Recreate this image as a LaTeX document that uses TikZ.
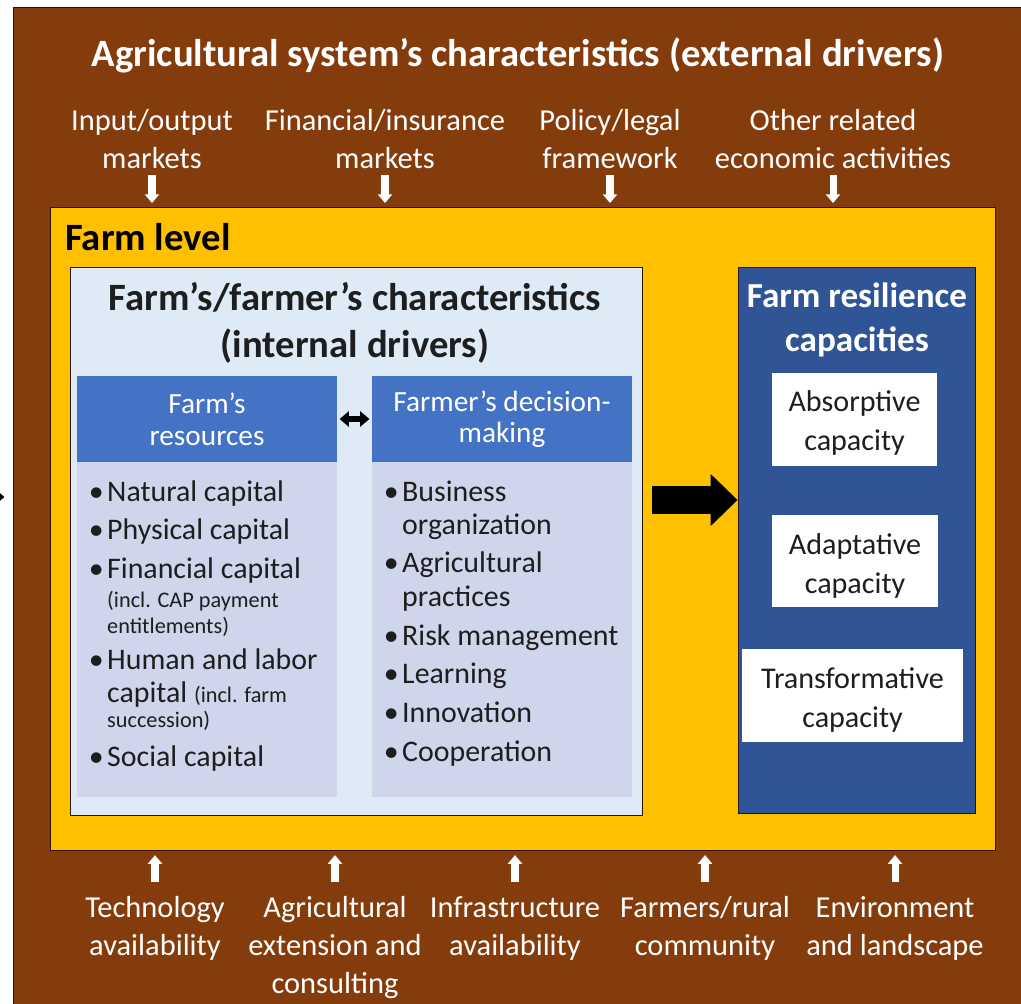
\documentclass[tikz,border=0pt]{standalone}
\usepackage{fontspec}
\setmainfont{Carlito}
\usetikzlibrary{arrows.meta,fit}

\definecolor{soil}{HTML}{843C0C}
\definecolor{farmgold}{HTML}{FFC000}
\definecolor{paleblue}{HTML}{DEEBF7}
\definecolor{headblue}{HTML}{4472C4}
\definecolor{lavender}{HTML}{CFD5EA}
\definecolor{resblue}{HTML}{2F5597}
\definecolor{edge}{HTML}{2B1406}
\definecolor{ink}{HTML}{1E1E1E}

\newcommand{\bul}{\llap{\textbullet\hspace{3pt}}}

\begin{document}
\begin{tikzpicture}[x=0.03cm,y=-0.03cm,
        panel/.style={inner sep=0pt,draw=edge,line width=0.7pt},
        patch/.style={inner sep=0pt},
        ext/.style={text=white,align=center,inner sep=0pt,font=\fontsize{26}{32.4}\selectfont},
        feed/.style={white,line width=6pt,-{Triangle[width=12pt,length=7.5pt]}},
        headtext/.style={text=white,align=center,inner sep=0pt,font=\fontsize{25}{27}\selectfont},
        item/.style={anchor=west,inner sep=0pt,text=ink,text height=0.7em,text depth=0.2em,font=\fontsize{25.5}{28}\selectfont},
        note/.style={item,font=\fontsize{19}{22}\selectfont},
        capac/.style={text=ink,align=center,inner sep=0pt,font=\fontsize{25.7}{34}\selectfont}]
    \useasboundingbox (0,0) rectangle (1021,1003);
    \clip (0,0) rectangle (1021,1003);
    \fill[white] (0,0) rectangle (1021,1003);

    % external drivers
    \node[panel,fill=soil,fit={(13,7) (1040,1030)}] (system) {};
    \node[text=white,font=\fontsize{33}{38}\bfseries] (sys-title) at (518,55)
        {Agricultural system's characteristics (external drivers)};
    \coordinate (spill) at (-20,497);
    \draw[line width=3pt,-{Triangle[width=10pt,length=6pt]},shorten >=7pt] (spill) -- (spill -| system.west);

    % farm level
    \node[panel,fill=farmgold,fit={(50,207) (995,850)}] (farm) {};
    \node[anchor=west,inner sep=0pt,font=\fontsize{33}{38}\bfseries] (farm-title) at (65,237) {Farm level};

    \foreach \x/\t/\n in {152/{Input/output\\markets}/inp,
                          385/{Financial/insurance\\markets}/fin,
                          610/{Policy/legal\\framework}/pol,
                          833/{Other related\\economic activities}/oth}{
        \node[ext,anchor=south] (\n) at (\x,169) {\t};
        \draw[feed,shorten <=5pt,shorten >=3pt] (\n.south) -- (\n.south |- farm.north);
    }
    \foreach \x/\t/\n in {155/{Technology\\availability}/tec,
                          335/{Agricultural\\extension and\\consulting}/ext,
                          515/{Infrastructure\\availability}/inf,
                          705/{Farmers/rural\\community}/com,
                          895/{Environment\\and landscape}/env}{
        \node[ext,anchor=north] (\n) at (\x,896) {\t};
        \draw[feed,shorten <=12pt,shorten >=4pt] (\n.north) -- (\n.north |- farm.south);
    }

    % internal drivers
    \node[panel,fill=paleblue,fit={(70,267) (642,815)}] (inner) {};
    \node[text=ink,align=center,inner sep=0pt,font=\fontsize{33}{40}\bfseries] (inner-title) at (355,323)
        {Farm's/farmer's characteristics\\(internal drivers)};

    \node[patch,fill=headblue,fit={(77,376) (337,462)}] (res-head) {};
    \node[patch,fill=headblue,fit={(372,376) (632,462)}] (dec-head) {};
    \node[headtext] (res-head-text) at (207,419) {Farm's\\resources};
    \node[headtext] (dec-head-text) at (502,419) {Farmer's decision-\\making};
    \node[patch,fill=lavender,fit={(77,462) (337,797)}] (res-body) {};
    \node[patch,fill=lavender,fit={(372,462) (632,797)}] (dec-body) {};
    \draw[line width=4.5pt,{Triangle[width=13pt,length=8pt]}-{Triangle[width=13pt,length=8pt]},
        shorten <=2pt,shorten >=2pt] (res-head.east) -- (dec-head.west);

    % farm's resources
    \foreach \y/\t [count=\i] in {499/{\bul Natural capital},
                                  537/{\bul Physical capital},
                                  576/{\bul Financial capital},
                                  667/{\bul Human and labor},
                                  700/{capital {\fontsize{19}{22}\selectfont(incl. farm}},
                                  764/{\bul Social capital}}
        \node[item] (res-\i) at (107,\y) {\t};
    \foreach \y/\t [count=\i] in {605/{(incl. CAP payment},
                                  631/{entitlements)},
                                  725/{succession)}}
        \node[note] (res-note-\i) at (107,\y) {\t};

    % farmer's decision-making
    \foreach \y/\t [count=\i] in {499/{\bul Business},
                                  532/{organization},
                                  570/{\bul Agricultural},
                                  604/{practices},
                                  643/{\bul Risk management},
                                  681/{\bul Learning},
                                  720/{\bul Innovation},
                                  759/{\bul Cooperation}}
        \node[item] (dec-\i) at (402,\y) {\t};

    % resilience capacities
    \node[panel,fill=resblue,fit={(738,267) (975,813)}] (resil) {};
    \node[text=white,align=center,inner sep=0pt,font=\fontsize{30}{37.5}\bfseries] (resil-title) at (857,320)
        {Farm resilience\\capacities};
    \node[patch,fill=white,fit={(772,373) (937,466)}] (absorb) {};
    \node[patch,fill=white,fit={(772,515) (938,607)}] (adapt) {};
    \node[patch,fill=white,fit={(742,649) (963,742)}] (transf) {};
    \node[capac] (absorb-text) at (854.5,423) {Absorptive\\capacity};
    \node[capac] (adapt-text) at (855,566) {Adaptative\\capacity};
    \node[capac] (transf-text) at (852.5,700) {Transformative\\capacity};

    \coordinate (push) at (652,500);
    \draw[line width=24pt,-{Triangle[width=43pt,length=23pt]}] (push) -- (push -| resil.west);
\end{tikzpicture}
\end{document}
